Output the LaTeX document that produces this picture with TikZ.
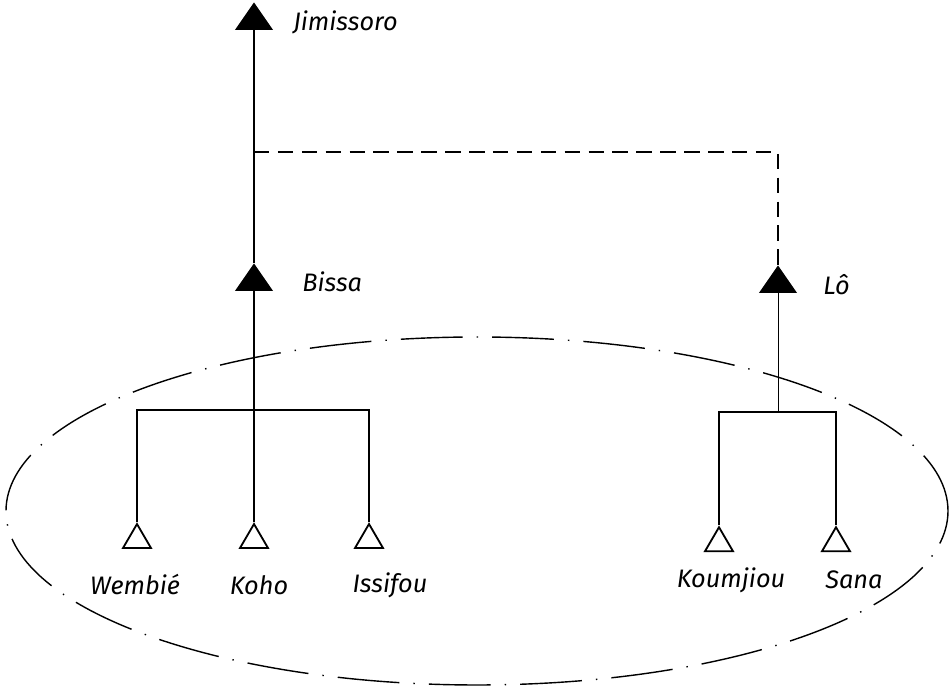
\documentclass[tikz,border=0pt]{standalone}
\usepackage{fontspec}
\setmainfont{Fira Sans}
\usetikzlibrary{shapes.geometric}
\begin{document}
\begin{tikzpicture}[
    man/.style={isosceles triangle, isosceles triangle stretches, shape border rotate=90,
      inner sep=0pt, minimum width=0.9cm, minimum height=0.65cm, draw, fill=black, line width=0.8pt},
    kin/.style={isosceles triangle, isosceles triangle stretches, shape border rotate=90,
      inner sep=0pt, minimum width=0.7cm, minimum height=0.6cm, draw, fill=white, line width=1.3pt},
    lbl/.style={font=\fontsize{18}{20}\selectfont\itshape, inner sep=0pt},
    tie/.style={line width=1.3pt},
    link/.style={line width=1.3pt, dash pattern=on 11pt off 6pt},
    group/.style={line width=1pt, dash pattern=on 44pt off 10pt on 1pt off 10pt}
  ]
  \useasboundingbox (0,0) rectangle (23.8,17.3);

  % heads of the lineages
  \node[man] (jim) at (6.35,16.8) {};
  \node[lbl, anchor=west] (jimN) at (7.325,16.75) {Jimissoro};
  \node[man] (bissa) at (6.35,10.275) {};
  \node[lbl, anchor=west] (bissaN) at (7.55,10.25) {Bissa};
  \node[man] (lo) at (19.45,10.225) {};
  \node[lbl, anchor=west] (loN) at (20.575,10.175) {Lô};

  % the living men
  \node[kin] (wem) at (3.425,3.8) {};
  \node[kin] (koho) at (6.35,3.8) {};
  \node[kin] (iss) at (9.225,3.8) {};
  \node[kin] (kou) at (17.975,3.72) {};
  \node[kin] (sana) at (20.9,3.72) {};
  \node[lbl] (wemN) at (3.375,2.675) {Wembié};
  \node[lbl] (kohoN) at (6.475,2.675) {Koho};
  \node[lbl] (issN) at (9.75,2.675) {Issifou};
  \node[lbl] (kouN) at (18.275,2.8) {Koumjiou};
  \node[lbl] (sanaN) at (21.35,2.8) {Sana};

  \coordinate (fork) at (6.35,13.5);
  \coordinate (lbar) at (6.35,7.05);
  \coordinate (rbar) at (19.45,7.0);
  \coordinate (mid) at (11.925,4.525);

  % descent lines
  \draw[tie] (jim.south) -- (bissa.north);
  \draw[tie] (bissa.south) -- (koho.north);
  \draw[link] (fork) -| (lo.north);
  \draw[line width=0.7pt] (lo.south) -- (rbar);
  \draw[tie] (wem.north) |- (lbar) -| (iss.north);
  \draw[tie] (kou.north) |- (rbar) -| (sana.north);

  % the group
  \draw[group] (mid) ellipse [x radius=11.775, y radius=4.35];
\end{tikzpicture}
\end{document}
